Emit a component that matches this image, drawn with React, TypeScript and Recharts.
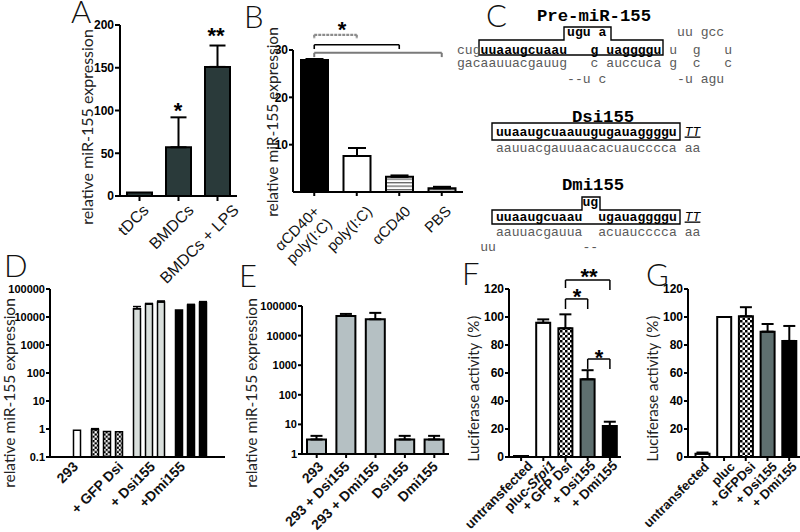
import React from 'react';
import { BarChart, Bar, XAxis, YAxis, ErrorBar, Cell, ReferenceLine } from 'recharts';

// ---------- DATA ----------
// Panel A
const aCategories = ['tDCs', 'BMDCs', 'BMDCs + LPS'];
const aValues = [4, 57, 151];
const aErrors = [0, 35, 25];
const aTicks = [0, 50, 100, 150, 200];

// Panel B
const bCategories = ['\u03B1CD40+\npoly(I:C)', 'poly(I:C)', '\u03B1CD40', 'PBS'];
const bValues = [27.9, 7.6, 3.2, 0.8];
const bErrors = [0.2, 1.7, 0.3, 0.3];
const bTicks = [10, 20, 30];

// Panel D
const dGroups = ['293', '+ GFP Dsi', '+ Dsi155', '+Dmi155'];
const dRep1: (number | null)[] = [null, 0.95, 19600, 17800];
const dRep2: (number | null)[] = [null, 0.82, 29000, 26800];
const dRep3: (number | null)[] = [0.9, 0.8, 34400, 33000];
const dErr1 = [0, 0.08, 4000, 0];
const dErr2 = [0, 0, 1500, 1500];
const dErr3 = [0, 0, 3000, 2500];
const dTicks = [0.1, 1, 10, 100, 1000, 10000, 100000];

// Panel E
const eCategories = ['293', '293 + Dsi155', '293 + Dmi155', 'Dsi155', 'Dmi155'];
const eValues = [3.1, 46000, 35600, 3.1, 3.1];
const eErrors = [1.0, 8000, 23000, 1.0, 1.0];
const eTicks = [1, 10, 100, 1000, 10000, 100000];

// Panel F
const fCategories = ['untransfected', 'pluc-Sfpi1', '+ GFP Dsi', '+ Dsi155', '+ Dmi155'];
const fValues = [0.7, 95.9, 91.9, 55.5, 22.1];
const fErrors = [0, 2.4, 10, 6.5, 3.1];

// Panel G
const gCategories = ['untransfected', 'pluc', '+ GFPDsi', '+ Dsi155', '+ Dmi155'];
const gValues = [2.3, 100, 100.5, 89.5, 82.9];
const gErrors = [0.9, 0, 6.5, 5.5, 10.7];

const lucTicks = [0, 20, 40, 60, 80, 100, 120];

// ---------- STYLE ----------
const FONT = "'Liberation Sans', Arial, Helvetica, sans-serif";
const LIGHT = "Lato, 'Liberation Sans', sans-serif";
const MONO = "'Liberation Mono', 'Courier New', monospace";
const W = 800;
const H = 532;
const abs: React.CSSProperties = { position: 'absolute', left: 0, top: 0 };
const axisLine = { stroke: '#000', strokeWidth: 2 };
const tickLine = { stroke: '#000', strokeWidth: 2 };
const yTick = (size: number) => ({ fontSize: size, fontWeight: 700, fill: '#000', fontFamily: FONT });

function rm(left: number, right: number, top: number, bottom: number, yw: number, xh: number) {
  return { left: left - yw, right: W - right, top, bottom: H - bottom - xh };
}
const err = (e: number) => (e ? [0, e] : undefined);

function makeTick(o: { dx: number[]; dy: number; size: number; bold: boolean }) {
  return (props: any) => {
    const { x, y, payload, index } = props;
    const px = x + (o.dx[index] ?? 0);
    const py = y + o.dy;
    const lines = String(payload.value).split('\n');
    return (
      <text
        x={px}
        y={py}
        transform={`rotate(-45 ${px} ${py})`}
        textAnchor="end"
        dominantBaseline="central"
        fontSize={o.size}
        fontWeight={o.bold ? 700 : 400}
        fontFamily={FONT}
        fill="#111"
      >
        {lines.map((l, i) => {
          const k = l.indexOf('Sfpi1');
          return (
            <tspan key={i} x={px} dy={i === 0 ? 0 : '1.15em'}>
              {k >= 0 ? (
                <>
                  {l.slice(0, k)}
                  <tspan fontStyle="italic">Sfpi1</tspan>
                </>
              ) : (
                l
              )}
            </tspan>
          );
        })}
      </text>
    );
  };
}

function bracket(key: string, x1: string, x2: string, yTop: number, yL: number, yR: number, stroke: string, sw: number, dash?: string) {
  const p = { stroke, strokeWidth: sw, strokeDasharray: dash, ifOverflow: 'visible' as const };
  return [
    <ReferenceLine key={key + 'h'} segment={[{ x: x1, y: yTop }, { x: x2, y: yTop }]} {...p} />,
    <ReferenceLine key={key + 'l'} segment={[{ x: x1, y: yTop }, { x: x1, y: yL }]} {...p} />,
    <ReferenceLine key={key + 'r'} segment={[{ x: x2, y: yTop }, { x: x2, y: yR }]} {...p} />,
  ];
}

const Checker = ({ id, s }: { id: string; s: number }) => (
  <pattern id={id} width={2 * s} height={2 * s} patternUnits="userSpaceOnUse">
    <rect width={2 * s} height={2 * s} fill="#fff" />
    <rect width={s} height={s} fill="#000" />
    <rect x={s} y={s} width={s} height={s} fill="#000" />
  </pattern>
);

// ---------- PANELS ----------
function PanelA() {
  const data = aCategories.map((name, i) => ({ name, v: aValues[i], e: err(aErrors[i]) }));
  return (
    <div style={abs}>
      <BarChart width={W} height={H} data={data} margin={rm(120, 237, 25, 196, 40, 40)}>
        <XAxis dataKey="name" interval={0} height={40} tickSize={5} tickMargin={0} axisLine={axisLine} tickLine={tickLine}
          tick={makeTick({ dx: [6, 12, 18], dy: 6, size: 16, bold: false })} />
        <YAxis type="number" domain={[0, 200]} ticks={aTicks} interval={0} width={40} tickSize={5} tickMargin={1}
          axisLine={axisLine} tickLine={tickLine} tick={yTick(12)} />
        <Bar dataKey="v" fill="#2a3a3a" stroke="#000" strokeWidth={2} barSize={25} isAnimationActive={false}>
          <ErrorBar dataKey="e" width={8} stroke="#000" strokeWidth={2} direction="y" />
        </Bar>
      </BarChart>
    </div>
  );
}

function PanelB() {
  const data = bCategories.map((name, i) => ({ name, v: bValues[i], e: err(bErrors[i]) }));
  const fills = ['#000', '#fff', 'url(#stripesB)', 'url(#stripesB)'];
  const [c0, c1, c2, c3] = bCategories;
  return (
    <div style={abs}>
      <BarChart width={W} height={H} data={data} margin={rm(293, 463, 50, 192, 40, 50)}>
        <defs>
          <pattern id="stripesB" width={4} height={3.5} patternUnits="userSpaceOnUse">
            <rect width={4} height={3.5} fill="#fff" />
            <rect y={0} width={4} height={1.3} fill="#666" />
          </pattern>
        </defs>
        <XAxis dataKey="name" interval={0} height={50} tickSize={4} tickMargin={0} axisLine={axisLine} tickLine={tickLine}
          tick={makeTick({ dx: [2, 12, 8, 6], dy: 12, size: 15, bold: false })} />
        <YAxis type="number" domain={[0, 30]} ticks={bTicks} interval={0} width={40} tickSize={4} tickMargin={1}
          axisLine={axisLine} tickLine={tickLine} tick={yTick(12)} />
        <Bar dataKey="v" stroke="#000" strokeWidth={2} barSize={27} isAnimationActive={false}>
          {data.map((_, i) => (
            <Cell key={i} fill={fills[i]} />
          ))}
          <ErrorBar dataKey="e" width={9} stroke="#000" strokeWidth={2} direction="y" />
        </Bar>
        {bracket('b1', c0, c1, 33.2, 32.3, 32.3, '#8c8c8c', 2.2, '3 1')}
        {bracket('b2', c0, c2, 31.1, 30.2, 30.2, '#000', 1.6)}
        {bracket('b3', c0, c3, 29.4, 28.5, 28.5, '#7a7a7a', 2)}
      </BarChart>
    </div>
  );
}

function PanelD() {
  const fills = ['#fff', 'url(#checkD)', '#d9dfdc', '#000'];
  const data = dGroups.map((name, i) => ({
    name,
    r1: dRep1[i],
    r2: dRep2[i],
    r3: dRep3[i],
    e1: err(dErr1[i]),
    e2: err(dErr2[i]),
    e3: err(dErr3[i]),
  }));
  const reps = [
    ['r1', 'e1'],
    ['r2', 'e2'],
    ['r3', 'e3'],
  ];
  return (
    <div style={abs}>
      <BarChart width={W} height={H} data={data} margin={rm(50, 225, 289, 457, 50, 50)} barGap={5}>
        <defs>
          <Checker id="checkD" s={2.2} />
        </defs>
        <XAxis dataKey="name" interval={0} height={50} tickSize={0} tickMargin={0} axisLine={axisLine} tickLine={false}
          padding={{ left: -6.5, right: 13.5 }}
          tick={makeTick({ dx: [11, 14, 4, -8], dy: 7, size: 14, bold: true })} />
        <YAxis type="number" scale="log" domain={[0.1, 100000]} ticks={dTicks} interval={0} width={50} tickSize={4} tickMargin={1}
          axisLine={axisLine} tickLine={tickLine} tick={yTick(11)} tickFormatter={(v: number) => (v < 1 ? '0.1' : String(v))} />
        {reps.map(([k, e]) => (
          <Bar key={k} dataKey={k} stroke="#000" strokeWidth={1.5} barSize={7} isAnimationActive={false}>
            {data.map((_, i) => (
              <Cell key={i} fill={fills[i]} />
            ))}
            <ErrorBar dataKey={e} width={4} stroke="#000" strokeWidth={1.5} direction="y" />
          </Bar>
        ))}
      </BarChart>
    </div>
  );
}

function PanelE() {
  const data = eCategories.map((name, i) => ({ name, v: eValues[i], e: err(eErrors[i]) }));
  return (
    <div style={abs}>
      <BarChart width={W} height={H} data={data} margin={rm(302, 449, 306, 454, 50, 50)}>
        <XAxis dataKey="name" interval={0} height={50} tickSize={4} tickMargin={0} axisLine={axisLine} tickLine={tickLine}
          tick={makeTick({ dx: [4, 1, 1, 1, 1], dy: 6, size: 14, bold: true })} />
        <YAxis type="number" scale="log" domain={[1, 100000]} ticks={eTicks} interval={0} width={50} tickSize={4} tickMargin={1}
          axisLine={axisLine} tickLine={tickLine} tick={yTick(11)} />
        <Bar dataKey="v" fill="#b5c0c3" stroke="#000" strokeWidth={2} barSize={19} isAnimationActive={false}>
          <ErrorBar dataKey="e" width={6} stroke="#000" strokeWidth={2} direction="y" />
        </Bar>
      </BarChart>
    </div>
  );
}

const lucFills = ['#fff', '#fff', 'url(#checkFG)', '#5e6f6f', '#000'];

function PanelF() {
  const data = fCategories.map((name, i) => ({ name, v: fValues[i], e: err(fErrors[i]) }));
  const [, , c2, c3, c4] = fCategories;
  return (
    <div style={abs}>
      <BarChart width={W} height={H} data={data} margin={rm(509, 621, 289, 457, 40, 50)}>
        <defs>
          <Checker id="checkFG" s={2.5} />
        </defs>
        <XAxis dataKey="name" interval={0} height={50} tickSize={4} tickMargin={0} axisLine={axisLine} tickLine={tickLine}
          padding={{ left: 1, right: 0 }}
          tick={makeTick({ dx: [9, 9, 4, 5, 5], dy: 2, size: 13.5, bold: true })} />
        <YAxis type="number" domain={[0, 120]} ticks={lucTicks} interval={0} width={40} tickSize={4} tickMargin={1}
          axisLine={axisLine} tickLine={tickLine} tick={yTick(12)} />
        <Bar dataKey="v" stroke="#000" strokeWidth={2} barSize={14} isAnimationActive={false}>
          {data.map((_, i) => (
            <Cell key={i} fill={lucFills[i]} />
          ))}
          <ErrorBar dataKey="e" width={6} stroke="#000" strokeWidth={2} direction="y" />
        </Bar>
        {bracket('f1', c2, c4, 126.4, 120.7, 119.3, '#000', 1.5)}
        {bracket('f2', c2, c3, 112.9, 105.7, 105.7, '#000', 1.5)}
        {bracket('f3', c3, c4, 70, 62.9, 62.9, '#000', 1.5)}
      </BarChart>
    </div>
  );
}

function PanelG() {
  const data = gCategories.map((name, i) => ({ name, v: gValues[i], e: err(gErrors[i]) }));
  return (
    <div style={abs}>
      <BarChart width={W} height={H} data={data} margin={rm(688, 800, 289, 457, 40, 50)}>
        <XAxis dataKey="name" interval={0} height={50} tickSize={4} tickMargin={0} axisLine={axisLine} tickLine={tickLine}
          padding={{ left: 3.5, right: 0 }}
          tick={makeTick({ dx: [4, 8, 7, 7, 5], dy: 3, size: 13, bold: true })} />
        <YAxis type="number" domain={[0, 120]} ticks={lucTicks} interval={0} width={40} tickSize={4} tickMargin={1}
          axisLine={axisLine} tickLine={tickLine} tick={yTick(12)} />
        <Bar dataKey="v" stroke="#000" strokeWidth={2} barSize={14} isAnimationActive={false}>
          {data.map((_, i) => (
            <Cell key={i} fill={lucFills[i]} />
          ))}
          <ErrorBar dataKey="e" width={6} stroke="#000" strokeWidth={2} direction="y" />
        </Bar>
      </BarChart>
    </div>
  );
}

// ---------- PANEL C (sequence diagram) + labels ----------
const CW = 7.86;
const MF = 13.1;

type SeqLine = { x0: number; y: number; text: string; bold?: [number, number][]; ital?: [number, number][] };

const preLines: SeqLine[] = [
  { x0: 457, y: 36, text: '              ugu a         uu gcc', bold: [[14, 18]] },
  { x0: 457, y: 54, text: 'cuguuaaugcuaau   g uaggggu u  g   u', bold: [[3, 25]] },
  { x0: 457, y: 67, text: 'gacaauuacgauug   c auccuca g  c   c' },
  { x0: 457, y: 83, text: '              --u c         -u agu' },
];
const dsiLines: SeqLine[] = [
  { x0: 496, y: 135.5, text: 'uuaaugcuaauugugauaggggu TT', bold: [[0, 22]], ital: [[24, 25]] },
  { x0: 496, y: 151.5, text: 'aauuacgauuaacacuaucccca aa' },
];
const dmiLines: SeqLine[] = [
  { x0: 496, y: 206, text: '           ug', bold: [[11, 12]] },
  { x0: 496, y: 220.5, text: 'uuaaugcuaau  ugauaggggu TT', bold: [[0, 22]], ital: [[24, 25]] },
  { x0: 496, y: 235.5, text: 'aauuacgauua  acuaucccca aa' },
  { x0: 496 - 2 * CW, y: 251, text: 'uu           --' },
];

function styleAt(l: SeqLine, i: number) {
  if (l.bold && l.bold.some(([a, b]) => i >= a && i <= b)) return 'b';
  if (l.ital && l.ital.some(([a, b]) => i >= a && i <= b)) return 'i';
  return 'r';
}

function SeqText({ l }: { l: SeqLine }) {
  const runs: { start: number; s: string; st: string }[] = [];
  for (let i = 0; i < l.text.length; i++) {
    const ch = l.text[i];
    if (ch === ' ') continue;
    const st = styleAt(l, i);
    const last = runs[runs.length - 1];
    if (last && last.st === st && last.start + last.s.length === i) last.s += ch;
    else runs.push({ start: i, s: ch, st });
  }
  return (
    <>
      {runs.map((r, k) => (
        <text
          key={k}
          x={l.x0 + r.start * CW}
          y={l.y}
          fontFamily={MONO}
          fontSize={MF}
          fontWeight={r.st === 'b' ? 700 : 400}
          fontStyle={r.st === 'i' ? 'italic' : 'normal'}
          textDecoration={r.st === 'i' ? 'underline' : undefined}
          fill={r.st === 'r' ? '#5a5a5a' : '#000'}
        >
          {r.s}
        </text>
      ))}
    </>
  );
}

const letterStyle = { fontFamily: LIGHT, fontSize: 31, fontWeight: 300, fill: '#111' };
const yTitle = (x: number, y: number, size: number, content: React.ReactNode, key: string) => (
  <text key={key} x={x} y={y} transform={`rotate(-90 ${x} ${y})`} textAnchor="middle" dominantBaseline="central"
    fontFamily={LIGHT} fontSize={size} fill="#222">
    {content}
  </text>
);
const star = (x: number, cy: number, s: string, key: string) => (
  <text key={key} x={x} y={cy + 11} textAnchor="middle" fontFamily={FONT} fontWeight={700} fontSize={22} fill="#000">
    {s}
  </text>
);

function Overlay() {
  const luc = (
    <>
      Luciferase activity
      <tspan dx={5} letterSpacing={1}>(%)</tspan>
    </>
  );
  return (
    <svg width={W} height={H} style={{ ...abs, pointerEvents: 'none' }}>
      {/* panel letters */}
      <text x={71} y={23} {...letterStyle}>A</text>
      <text x={244} y={28} {...letterStyle}>B</text>
      <text x={486} y={27} {...letterStyle}>C</text>
      <text x={4} y={277} {...letterStyle}>D</text>
      <text x={239} y={287} {...letterStyle}>E</text>
      <text x={462} y={285} {...letterStyle}>F</text>
      <text x={646} y={286} {...letterStyle}>G</text>

      {/* axis titles */}
      {yTitle(86, 127, 16, 'relative miR-155 expression', 'ya')}
      {yTitle(272, 122, 15.5, 'relative miR-155 expression', 'yb')}
      {yTitle(9, 393, 15.5, 'relative miR-155 expression', 'yd')}
      {yTitle(251, 393, 15.5, 'relative miR-155 expression', 'ye')}
      {yTitle(473, 388, 15, luc, 'yf')}
      {yTitle(652, 388, 15, luc, 'yg')}

      {/* significance stars */}
      {star(178, 107, '*', 's1')}
      {star(216, 32, '**', 's2')}
      {star(342, 26, '*', 's3')}
      {star(589, 273, '**', 's4')}
      {star(577, 293, '*', 's5')}
      {star(599, 354, '*', 's6')}

      {/* panel C */}
      <text x={537} y={21} fontFamily={MONO} fontWeight={700} fontSize={17.3} fill="#000">Pre-miR-155</text>
      <text x={572} y={121.5} fontFamily={MONO} fontWeight={700} fontSize={17.3} fill="#000">Dsi155</text>
      <text x={562} y={189.5} fontFamily={MONO} fontWeight={700} fontSize={17.3} fill="#000">Dmi155</text>
      <path d="M479 55 V40 H564 V27 H611 V40 H663 V55 Z" fill="none" stroke="#000" strokeWidth={1.4} />
      <path d="M492 140 V123 H680 V140 Z" fill="none" stroke="#000" strokeWidth={1.4} />
      <path d="M492 224 V210 H582 V197 H600 V210 H680 V224 Z" fill="none" stroke="#000" strokeWidth={1.4} />
      {[...preLines, ...dsiLines, ...dmiLines].map((l, i) => (
        <SeqText key={i} l={l} />
      ))}
    </svg>
  );
}

export default function App() {
  return (
    <div style={{ ...abs, width: W, height: H, background: '#fff', overflow: 'hidden' }}>
      <PanelA />
      <PanelB />
      <PanelD />
      <PanelE />
      <PanelF />
      <PanelG />
      <Overlay />
    </div>
  );
}
